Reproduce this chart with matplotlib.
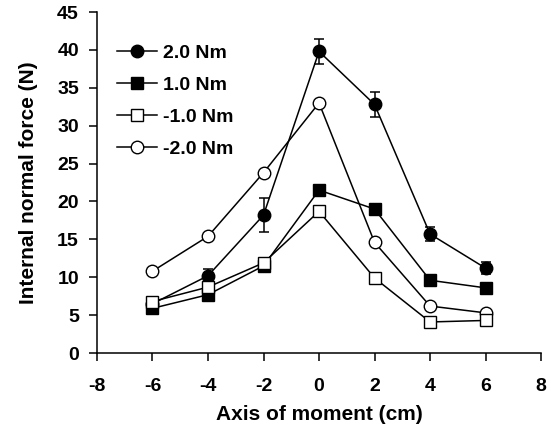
import numpy as np
import matplotlib.pyplot as plt

plt.rcParams['font.family'] = ['Liberation Sans', 'DejaVu Sans']
plt.rcParams['font.weight'] = 'bold'
plt.rcParams['axes.unicode_minus'] = False

x = [-6, -4, -2, 0, 2, 4, 6]
labels = ['2.0 Nm', '1.0 Nm', '-1.0 Nm', '-2.0 Nm']
f_2p0 = [6.5, 10.2, 18.2, 39.8, 32.8, 15.7, 11.2]
f_2p0_err = [0.5, 0.9, 2.2, 1.7, 1.6, 0.9, 0.8]
f_1p0 = [5.9, 7.7, 11.5, 21.5, 19.0, 9.6, 8.6]
f_m1p0 = [6.8, 8.7, 11.9, 18.7, 9.9, 4.1, 4.3]
f_m2p0 = [10.8, 15.4, 23.8, 33.0, 14.6, 6.2, 5.3]

fig = plt.figure(figsize=(5.51, 4.30), dpi=100)
ax = fig.add_axes([0.176, 0.179, 0.806, 0.793])

ms = 9
ax.errorbar(x, f_2p0, yerr=f_2p0_err, fmt='none', ecolor='black', elinewidth=1.1, capsize=3.6, capthick=1.1, zorder=2)
ax.plot(x, f_m2p0, '-o', color='black', mfc='white', mec='black', ms=ms, lw=1.1, label=labels[3], zorder=3)
ax.plot(x, f_2p0, '-o', color='black', mfc='black', ms=ms, lw=1.1, label=labels[0], zorder=3)
ax.plot(x, f_1p0, '-s', color='black', mfc='black', ms=ms - 0.5, lw=1.1, label=labels[1], zorder=3)
ax.plot(x, f_m1p0, '-s', color='black', mfc='white', mec='black', ms=ms - 0.5, lw=1.1, label=labels[2], zorder=4)

ax.set_xlim(-8, 8)
ax.set_ylim(0, 45)
ax.set_xticks(np.arange(-8, 9, 2))
ax.set_yticks(np.arange(0, 46, 5))
ax.spines['top'].set_visible(False)
ax.spines['right'].set_visible(False)
for s in ['left', 'bottom']:
    ax.spines[s].set_linewidth(1.1)
ax.tick_params(direction='out', length=6, width=1.1, labelsize=14)
ax.tick_params(axis='y', pad=7)
ax.tick_params(axis='x', pad=12)
ax.set_xlabel('Axis of moment (cm)', fontsize=15, fontweight='bold', labelpad=7)
ax.set_ylabel('Internal normal force (N)', fontsize=15, fontweight='bold', labelpad=14)

h, l = ax.get_legend_handles_labels()
order = [1, 2, 3, 0]
ax.legend([h[i] for i in order], [l[i] for i in order], loc='upper left',
          bbox_to_anchor=(0.006, 0.956), frameon=False, fontsize=14,
          handlelength=2.06, handletextpad=0.3, labelspacing=0.74)

fig.savefig('out.png', dpi=100)
